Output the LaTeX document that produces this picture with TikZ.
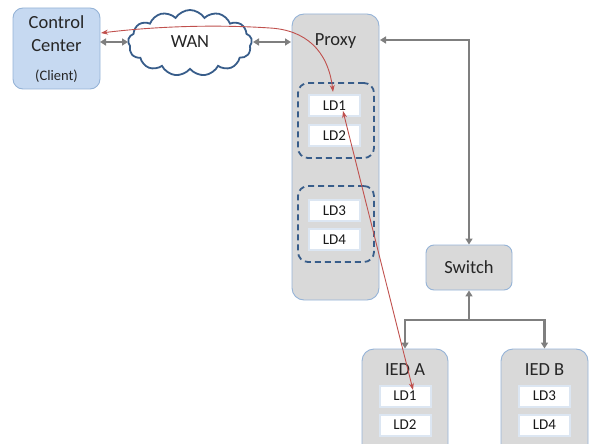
\documentclass[tikz,border=0pt]{standalone}
\usepackage{fontspec}
\setmainfont{Carlito}
\usetikzlibrary{shapes.symbols,arrows.meta}
\definecolor{boxgray}{HTML}{D9D9D9}
\definecolor{boxedge}{HTML}{95B3D7}
\definecolor{ccfill}{HTML}{C6D9F1}
\definecolor{dashblue}{HTML}{385D8A}
\definecolor{redline}{HTML}{C0504D}
\definecolor{arrgray}{HTML}{7F7F7F}
\definecolor{ldedge}{HTML}{DCE6F2}
\tikzset{
  bigbox/.style={draw=boxedge, line width=0.9pt, fill=boxgray, rounded corners=10pt, inner sep=0pt},
  ldbox/.style={draw=ldedge, line width=2pt, fill=white, minimum width=51pt, minimum height=21pt, inner sep=0pt, font=\fontsize{15}{16}\selectfont, text=black!90},
  grp/.style={draw=dashblue, line width=1.8pt, dash pattern=on 6pt off 4pt, rounded corners=10pt, inner sep=0pt},
  grayarr/.style={draw=arrgray, line width=2.2pt, arrows={Triangle[length=6pt,width=7pt]-Triangle[length=6pt,width=7pt]}},
  grayone/.style={draw=arrgray, line width=2.2pt, -{Triangle[length=6pt,width=7pt]}},
  redarr/.style={draw=redline, line width=0.9pt, arrows={Stealth[length=7pt,width=5pt]-Stealth[length=7pt,width=5pt]}},
  title/.style={font=\fontsize{18.5}{22}\selectfont, text=black!85},
}
\begin{document}
\begin{tikzpicture}[x=1pt,y=-1pt]
\useasboundingbox (0,0) rectangle (592,444);
\clip (0,0) rectangle (592,444);
% control center
\node[bigbox, fill=ccfill, minimum width=87pt, minimum height=81pt] (cc) at (56.5,48.5) {};
\node[title, align=center, font=\fontsize{18.5}{23}\selectfont] (cct) at (56.5,34) {Control\\Center};
\node[font=\fontsize{14.5}{15}\selectfont, text=black!85] (ccl) at (56.5,76) {(Client)};
% cloud
\node[cloud, cloud puffs=13, cloud puff arc=115, aspect=2.1, draw=dashblue, line width=1.8pt, fill=white, minimum width=124pt, minimum height=66pt, inner sep=0pt] (wan) at (190,43) {};
\node[title] (want) at (190,42) {WAN};
% proxy
\node[bigbox, minimum width=87pt, minimum height=286pt, rounded corners=12pt] (px) at (335.5,157) {};
\node[title] (pxt) at (335.5,41) {Proxy};
\node[grp, minimum width=76pt, minimum height=75pt] (g1) at (336,120.5) {};
\node[grp, minimum width=76pt, minimum height=76pt] (g2) at (336,224) {};
\node[ldbox] (p1) at (334.5,105.5) {LD1};
\node[ldbox] (p2) at (334.5,135.5) {LD2};
\node[ldbox] (p3) at (334.5,210.5) {LD3};
\node[ldbox] (p4) at (334.5,239.5) {LD4};
% switch
\node[bigbox, minimum width=86pt, minimum height=45pt, rounded corners=8pt] (sw) at (469,267.5) {};
\node[title] (swt) at (469,267) {Switch};
% IED A
\node[bigbox, minimum width=86pt, minimum height=110pt, rounded corners=12pt] (ia) at (405,404) {};
\node[title] (iat) at (405,370) {IED A};
\node[ldbox] (a1) at (405,396) {LD1};
\node[ldbox] (a2) at (405,425) {LD2};
% IED B
\node[bigbox, minimum width=87pt, minimum height=110pt, rounded corners=12pt] (ib) at (544.5,404) {};
\node[title] (ibt) at (544.5,370) {IED B};
\node[ldbox] (b3) at (544.5,396) {LD3};
\node[ldbox] (b4) at (544.5,425) {LD4};
% gray connectors
\coordinate (ccr) at (100,42);
\coordinate (wl) at (128,42);
\coordinate (wr) at (253,42);
\coordinate (pl) at (291,42);
\draw[grayarr] (ccr) -- (wl);
\draw[grayarr] (wr) -- (pl);
\coordinate (pr) at (380,40);
\draw[grayarr] (pr) -| (sw.north);
\coordinate (j) at (469,320);
\draw[grayone] (j) -- (sw.south);
\draw[grayone] (j) -| (ia.north);
\draw[grayone] (j) -| (ib.north);
% red connectors
\coordinate (cci) at (101,33);
\coordinate (pin) at (333,92);
\draw[redarr] (pin) .. controls (328,50) and (305,30) .. (270,28) .. controls (210,24) and (150,27) .. (cci);
\coordinate (pa) at (343,111);
\coordinate (aa) at (413,390);
\draw[redarr] (pa) -- (aa);
\end{tikzpicture}
\end{document}
